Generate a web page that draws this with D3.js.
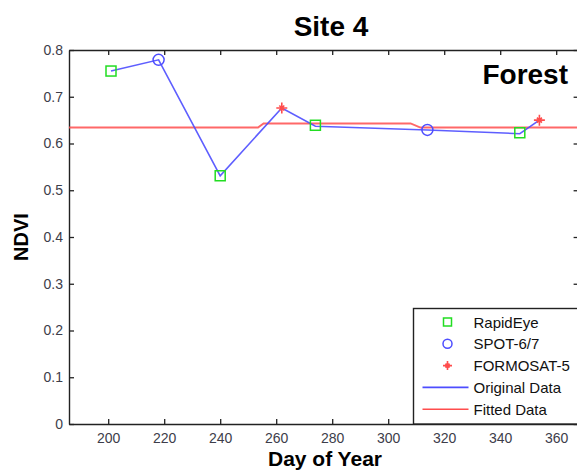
<!DOCTYPE html>
<html>
<head>
<meta charset="utf-8">
<script src="https://cdn.jsdelivr.net/npm/d3@7"></script>
<style>
  body { margin: 0; background: #fff; }
  svg { display: block; font-family: Arial, "Liberation Sans", sans-serif; }
</style>
</head>
<body>
<div id="cnt"></div>
<script>
const titleText = 'Site 4'
const classText = 'Forest'
const xLabel = 'Day of Year'
const yLabel = 'NDVI'
const xTicks = [200, 220, 240, 260, 280, 300, 320, 340, 360]
const yTicks = [0, 0.1, 0.2, 0.3, 0.4, 0.5, 0.6, 0.7, 0.8]

// observations per sensor
const rapidDays = [201, 240, 274, 347]
const rapidNdvi = [0.755, 0.531, 0.639, 0.623]
const spotDays = [218, 314]
const spotNdvi = [0.779, 0.629]
const formoDays = [262, 354]
const formoNdvi = [0.676, 0.650]

// original series (all sensors, by day)
const origDays = [201, 218, 240, 262, 274, 314, 347, 354]
const origNdvi = [0.755, 0.779, 0.531, 0.676, 0.637, 0.629, 0.621, 0.650]

// fitted series
const fitDays = [186, 253.5, 255.5, 308, 311.5, 368]
const fitNdvi = [0.634, 0.634, 0.643, 0.643, 0.634, 0.634]

const legendNames = ['RapidEye', 'SPOT-6/7', 'FORMOSAT-5', 'Original Data', 'Fitted Data']

const W = 577, H = 470
const mLeft = 69, mTop = 50, mRight = 578.6, mBottom = 424
const blue = '#4d4dff'
const red = '#ff4d4d'
const green = '#22dd22'
const axisColor = '#222'
const tickColor = '#3d3d4a'

const x = d3.scaleLinear().domain([186, 368]).range([mLeft, mRight])
const y = d3.scaleLinear().domain([0, 0.8]).range([mBottom, mTop])

const svg = d3.select('#cnt').append('svg')
    .attr('width', W)
    .attr('height', H)

// axes with inward ticks, mirrored on top/right
svg.append('g')
    .attr('transform', `translate(0,${mBottom})`)
    .call(d3.axisBottom(x).tickValues(xTicks).tickSizeInner(-5).tickSizeOuter(0).tickPadding(9))
    .call(g => g.selectAll('text').attr('font-size', 14).attr('fill', tickColor))
svg.append('g')
    .attr('transform', `translate(0,${mTop})`)
    .call(d3.axisTop(x).tickValues(xTicks).tickSizeInner(-5).tickSizeOuter(0).tickFormat(''))
svg.append('g')
    .attr('transform', `translate(${mLeft},0)`)
    .call(d3.axisLeft(y).tickValues(yTicks).tickSizeInner(-5).tickSizeOuter(0).tickPadding(6)
        .tickFormat(d => d === 0 ? '0' : d3.format('.1f')(d)))
    .call(g => g.selectAll('text').attr('font-size', 14).attr('fill', tickColor))
svg.append('g')
    .attr('transform', `translate(${mRight},0)`)
    .call(d3.axisRight(y).tickValues(yTicks).tickSizeInner(-5).tickSizeOuter(0).tickFormat(''))

svg.selectAll('.domain').attr('stroke', axisColor).attr('stroke-width', 1.4)
svg.selectAll('.tick line').attr('stroke', axisColor).attr('stroke-width', 1.3)

// lines
const line = d3.line().x(d => x(d[0])).y(d => y(d[1]))
svg.append('path')
    .datum(fitDays.map((d, i) => [d, fitNdvi[i]]))
    .attr('d', line)
    .attr('fill', 'none')
    .attr('stroke', red)
    .attr('stroke-width', 2)
    .attr('stroke-opacity', 0.85)
svg.append('path')
    .datum(origDays.map((d, i) => [d, origNdvi[i]]))
    .attr('d', line)
    .attr('fill', 'none')
    .attr('stroke', blue)
    .attr('stroke-width', 1.6)
    .attr('stroke-opacity', 0.9)

// markers
const square = (g, s) => g.append('rect')
    .attr('x', -s / 2).attr('y', -s / 2).attr('width', s).attr('height', s)
    .attr('fill', 'none').attr('stroke', green).attr('stroke-width', 1.5)
const circle = (g, r) => g.append('circle')
    .attr('r', r).attr('fill', 'none').attr('stroke', blue).attr('stroke-width', 1.5)
const star = (g, s) => g.append('path')
    .attr('d', `M${-s},0H${s}M0,${-s}V${s}M${-s * .45},${-s * .45}L${s * .45},${s * .45}M${-s * .45},${s * .45}L${s * .45},${-s * .45}`)
    .attr('stroke', red).attr('stroke-width', 1.6)

rapidDays.forEach((d, i) => {
    square(svg.append('g').attr('transform', `translate(${x(d)},${y(rapidNdvi[i])})`), 10)
})
spotDays.forEach((d, i) => {
    circle(svg.append('g').attr('transform', `translate(${x(d)},${y(spotNdvi[i])})`), 5.5)
})
formoDays.forEach((d, i) => {
    star(svg.append('g').attr('transform', `translate(${x(d)},${y(formoNdvi[i])})`), 5.5)
})

// titles
svg.append('text')
    .attr('x', 331).attr('y', 36)
    .attr('text-anchor', 'middle')
    .attr('font-size', 28).attr('font-weight', 'bold')
    .text(titleText)
svg.append('text')
    .attr('x', 568).attr('y', 84)
    .attr('text-anchor', 'end')
    .attr('font-size', 28).attr('font-weight', 'bold')
    .text(classText)
svg.append('text')
    .attr('x', 325).attr('y', 466)
    .attr('text-anchor', 'middle')
    .attr('font-size', 21).attr('font-weight', 'bold')
    .text(xLabel)
svg.append('text')
    .attr('transform', 'translate(28,237) rotate(-90)')
    .attr('text-anchor', 'middle')
    .attr('font-size', 20).attr('font-weight', 'bold')
    .text(yLabel)

// legend
const lg = svg.append('g').attr('transform', 'translate(413.5,308.5)')
lg.append('rect')
    .attr('width', 175).attr('height', 115.5)
    .attr('fill', '#fff').attr('stroke', axisColor).attr('stroke-width', 1.4)
const rowY = i => 13.5 + i * 21.8
legendNames.forEach((name, i) => {
    const row = lg.append('g').attr('transform', `translate(0,${rowY(i)})`)
    if (i === 0) square(row.append('g').attr('transform', 'translate(34,0)'), 8)
    if (i === 1) circle(row.append('g').attr('transform', 'translate(34,0)'), 4.5)
    if (i === 2) star(row.append('g').attr('transform', 'translate(34,0)'), 4.5)
    if (i === 3) row.append('line').attr('x1', 9).attr('x2', 55).attr('stroke', blue).attr('stroke-width', 1.6)
    if (i === 4) row.append('line').attr('x1', 9).attr('x2', 55).attr('stroke', red).attr('stroke-width', 1.6)
    row.append('text')
        .attr('x', 60).attr('y', 5.5)
        .attr('font-size', 15)
        .attr('fill', '#111')
        .text(name)
})
</script>
</body>
</html>
